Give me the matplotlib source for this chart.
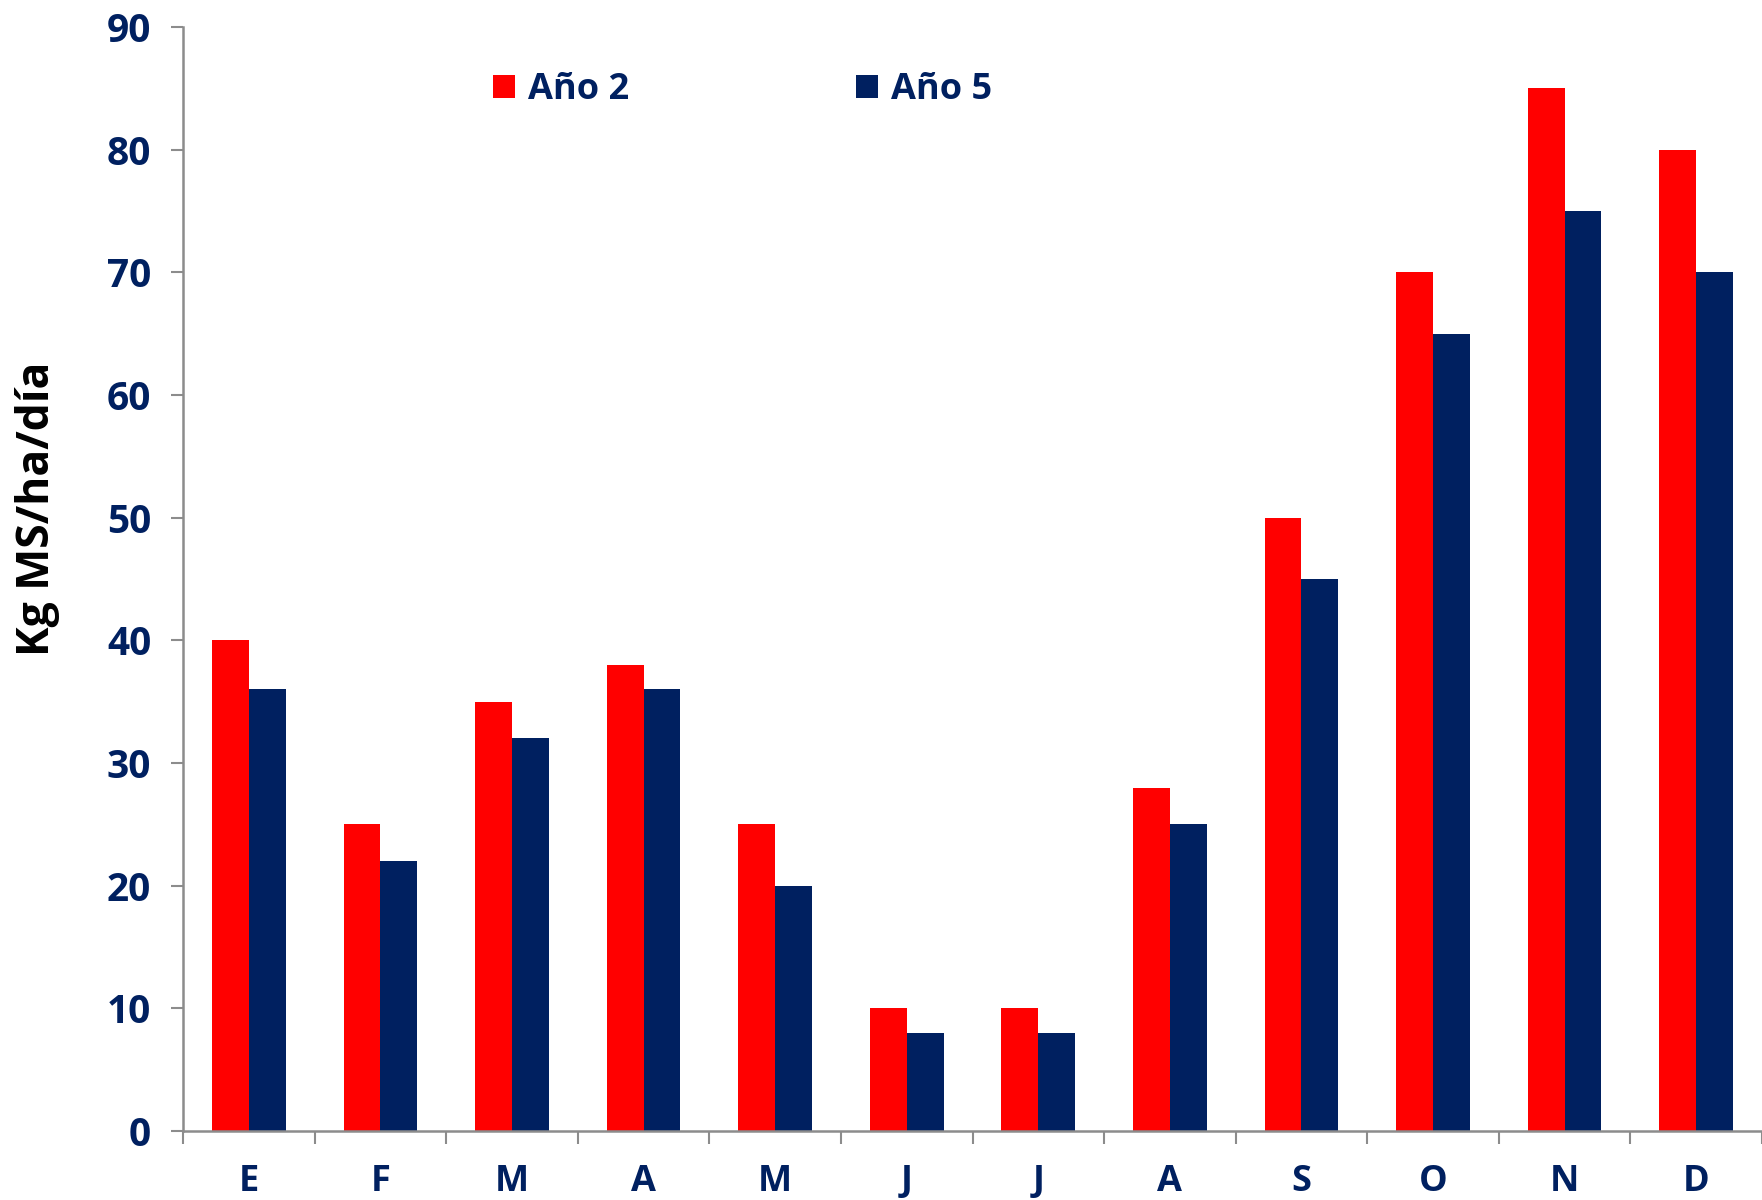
import matplotlib.pyplot as plt
import numpy as np

plt.rcParams['font.family'] = ['Open Sans', 'DejaVu Sans']

meses = ["E", "F", "M", "A", "M", "J", "J", "A", "S", "O", "N", "D"]
ano2 = [40, 25, 35, 38, 25, 10, 10, 28, 50, 70, 85, 80]
ano5 = [36, 22, 32, 36, 20, 8, 8, 25, 45, 65, 75, 70]

navy = '#002060'
grey = '#8c8c8c'

fig = plt.figure(figsize=(17.62, 12), dpi=100)
ax = fig.add_axes([0.1039, 0.0575, 0.8961, 0.92])

x = np.arange(len(meses))
w = 0.28
ax.bar(x - w / 2, ano2, w, color='#ff0000', label='Año 2')
ax.bar(x + w / 2, ano5, w, color=navy, label='Año 5')

ax.set_xlim(-0.5, 11.5)
ax.set_ylim(0, 90)
ax.set_yticks(range(0, 91, 10))

# month labels centred, tick marks between months
ax.set_xticks(x)
ax.set_xticklabels(meses)
ax.set_xticks(np.arange(-0.5, 12, 1), minor=True)
ax.tick_params(axis='x', which='major', length=0, pad=24)
ax.tick_params(axis='x', which='minor', length=9, width=1.5, color=grey, direction='out')
ax.tick_params(axis='y', length=9, width=1.5, color=grey, direction='out', pad=14)

for lab in ax.get_yticklabels():
    lab.set_fontsize(28)
    lab.set_fontweight('bold')
    lab.set_color(navy)
for lab in ax.get_xticklabels():
    lab.set_fontsize(26)
    lab.set_fontweight('bold')
    lab.set_color(navy)

for s in ['top', 'right']:
    ax.spines[s].set_visible(False)
for s in ['left', 'bottom']:
    ax.spines[s].set_color(grey)
    ax.spines[s].set_linewidth(1.8)

ax.set_ylabel("Kg MS/ha/día", fontsize=32, fontweight='bold', color='black')
ax.yaxis.set_label_coords(-0.078, 0.564)

ax.legend(loc='center left', bbox_to_anchor=(0.176, 0.943), ncol=2, frameon=False,
          prop={'size': 26, 'weight': 'bold'}, labelcolor=navy,
          handlelength=0.6, handleheight=0.6, handletextpad=0.35, columnspacing=6.3)

plt.savefig("out.png", dpi=100)
